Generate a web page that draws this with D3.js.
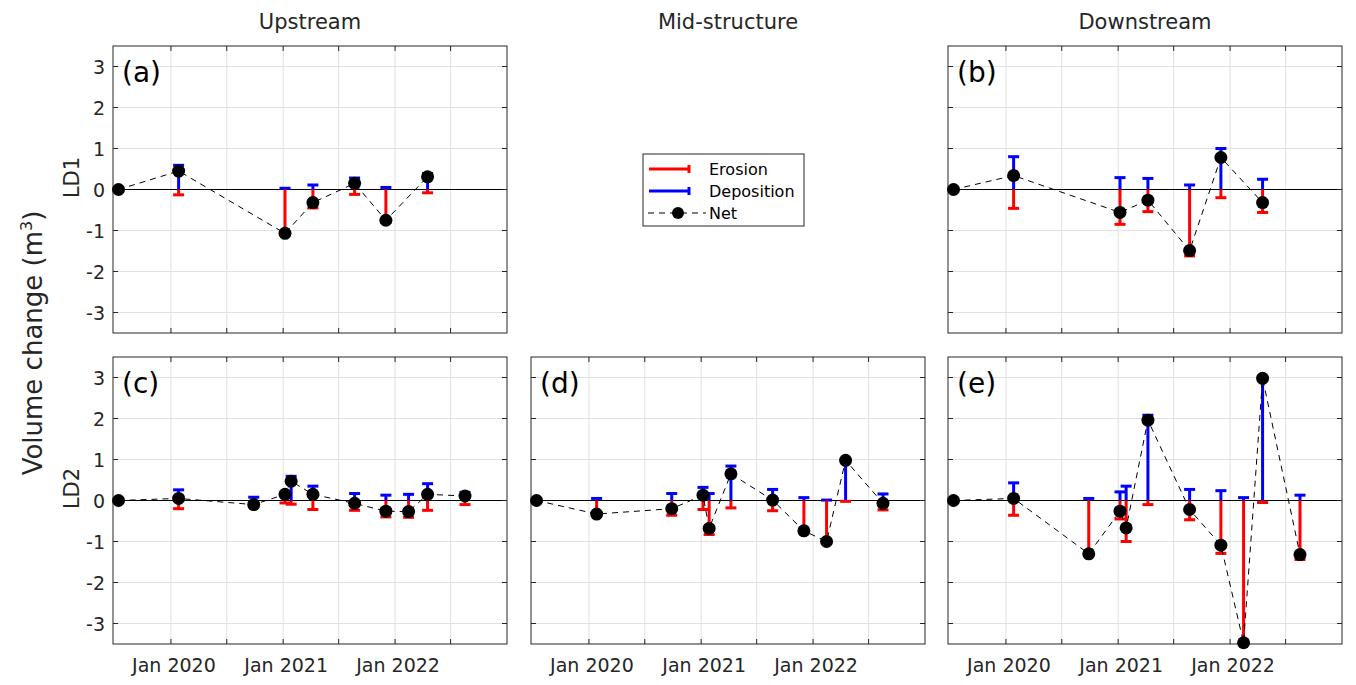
<!DOCTYPE html>
<html>
<head>
<meta charset="utf-8">
<script src="https://cdn.jsdelivr.net/npm/d3@7"></script>
<style>
  body { margin: 0; background: #fff; }
  text { font-family: "DejaVu Sans", Verdana, sans-serif; fill: #262626; }
</style>
</head>
<body>
<div id="vis"></div>
<script>
// survey dates
var datesLD1 = ["2019-07-14", "2020-01-26", "2021-01-07", "2021-04-08", "2021-08-22", "2021-12-02", "2022-04-17"];
var datesLD2 = ["2019-07-14", "2020-01-26", "2020-09-27", "2021-01-07", "2021-01-27", "2021-04-08",
                "2021-08-22", "2021-12-02", "2022-02-14", "2022-04-17", "2022-08-17"];

// (a) LD1 upstream
var netA = [0, 0.45, -1.07, -0.32, 0.15, -0.75, 0.31];
var depA = [0, 0.59, 0.03, 0.11, 0.28, 0.05, 0.39];
var eroA = [0, -0.13, -1.10, -0.45, -0.12, -0.80, -0.08];
// (b) LD1 downstream
var netB = [0, 0.34, -0.56, -0.26, -1.49, 0.78, -0.32];
var depB = [0, 0.80, 0.29, 0.27, 0.11, 1.00, 0.25];
var eroB = [0, -0.46, -0.85, -0.54, -1.62, -0.20, -0.56];
// (c) LD2 upstream
var netC = [0, 0.05, -0.10, 0.15, 0.47, 0.15, -0.07, -0.26, -0.27, 0.15, 0.11];
var depC = [0, 0.26, 0.08, 0.20, 0.59, 0.35, 0.17, 0.13, 0.15, 0.41, 0.20];
var eroC = [0, -0.20, -0.16, -0.06, -0.09, -0.22, -0.24, -0.40, -0.41, -0.24, -0.10];
// (d) LD2 mid-structure
var netD = [0, -0.33, -0.20, 0.13, -0.68, 0.65, 0.01, -0.74, -1.00, 0.98, -0.07];
var depD = [0, 0.05, 0.17, 0.32, 0.17, 0.84, 0.27, 0.07, 0.01, 0.98, 0.16];
var eroD = [0, -0.38, -0.36, -0.22, -0.83, -0.18, -0.25, -0.80, -1.01, -0.02, -0.23];
// (e) LD2 downstream
var netE = [0, 0.05, -1.30, -0.26, -0.67, 1.96, -0.22, -1.09, -3.47, 2.98, -1.32];
var depE = [0, 0.43, 0.05, 0.21, 0.35, 2.08, 0.27, 0.24, 0.07, 3.03, 0.13];
var eroE = [0, -0.36, -1.35, -0.45, -1.00, -0.10, -0.47, -1.29, -3.52, -0.05, -1.44];

var columnTitles = ["Upstream", "Mid-structure", "Downstream"];
var rowTitles = ["LD1", "LD2"];
var yTicks = [-3, -2, -1, 0, 1, 2, 3];
var xTickDates = ["2020-01-01", "2020-07-01", "2021-01-01", "2021-07-01", "2022-01-01", "2022-07-01"];

var panels = [
  {label: "(a)", row: 0, col: 0, dates: datesLD1, net: netA, dep: depA, ero: eroA},
  {label: "(b)", row: 0, col: 2, dates: datesLD1, net: netB, dep: depB, ero: eroB},
  {label: "(c)", row: 1, col: 0, dates: datesLD2, net: netC, dep: depC, ero: eroC},
  {label: "(d)", row: 1, col: 1, dates: datesLD2, net: netD, dep: depD, ero: eroD},
  {label: "(e)", row: 1, col: 2, dates: datesLD2, net: netE, dep: depE, ero: eroE}
];

var W = 1356, H = 685,
    colX = [113, 531, 948],
    rowY = [46, 357],
    pw = 394, ph = 287,
    parse = d3.timeParse("%Y-%m-%d"),
    capW = 11, tickLen = 5;

var svg = d3.select("#vis").append("svg")
    .attr("width", W)
    .attr("height", H);

var x = d3.scaleTime()
    .domain([parse("2019-06-26"), parse("2023-01-01")])
    .range([0, pw]);
var y = d3.scaleLinear()
    .domain([-3.5, 3.5])
    .range([ph, 0]);

// column titles
svg.selectAll("text.coltitle")
    .data(columnTitles)
  .enter().append("text")
    .attr("class", "coltitle")
    .attr("x", function(d, i) { return colX[i] + pw / 2; })
    .attr("y", 29)
    .attr("text-anchor", "middle")
    .style("font-size", "21px")
    .text(function(d) { return d; });

// row titles
svg.selectAll("text.rowtitle")
    .data(rowTitles)
  .enter().append("text")
    .attr("class", "rowtitle")
    .attr("transform", function(d, i) { return "translate(79," + (rowY[i] + ph / 2 - 12) + ") rotate(-90)"; })
    .attr("text-anchor", "middle")
    .style("font-size", "21px")
    .text(function(d) { return d; });

var ylab = svg.append("text")
    .attr("transform", "translate(42,343) rotate(-90)")
    .attr("text-anchor", "middle")
    .style("font-size", "26px");
ylab.append("tspan").text("Volume change (m");
ylab.append("tspan").attr("dy", -10).style("font-size", "16px").text("3");
ylab.append("tspan").attr("dy", 10).text(")");

panels.forEach(function(p) {
  var g = svg.append("g")
      .attr("transform", "translate(" + colX[p.col] + "," + rowY[p.row] + ")");

  var pts = p.dates.map(function(d, i) {
    return {t: parse(d), net: p.net[i], dep: p.dep[i], ero: p.ero[i]};
  });

  // grid
  g.selectAll("line.gx")
      .data(xTickDates)
    .enter().append("line")
      .attr("x1", function(d) { return x(parse(d)); })
      .attr("x2", function(d) { return x(parse(d)); })
      .attr("y1", 0).attr("y2", ph)
      .attr("stroke", "#e1e1e1");
  g.selectAll("line.gy")
      .data(yTicks)
    .enter().append("line")
      .attr("x1", 0).attr("x2", pw)
      .attr("y1", function(d) { return y(d); })
      .attr("y2", function(d) { return y(d); })
      .attr("stroke", "#e1e1e1");

  // zero line
  g.append("line")
      .attr("x1", 0).attr("x2", pw)
      .attr("y1", y(0)).attr("y2", y(0))
      .attr("stroke", "#000").attr("stroke-width", 1);

  // ticks (inside, all four sides)
  yTicks.forEach(function(v) {
    g.append("line").attr("x1", 0).attr("x2", tickLen).attr("y1", y(v)).attr("y2", y(v)).attr("stroke", "#262626");
    g.append("line").attr("x1", pw - tickLen).attr("x2", pw).attr("y1", y(v)).attr("y2", y(v)).attr("stroke", "#262626");
  });
  xTickDates.forEach(function(d) {
    var xx = x(parse(d));
    g.append("line").attr("x1", xx).attr("x2", xx).attr("y1", ph).attr("y2", ph - tickLen).attr("stroke", "#262626");
    g.append("line").attr("x1", xx).attr("x2", xx).attr("y1", 0).attr("y2", tickLen).attr("stroke", "#262626");
  });

  // frame
  g.append("rect")
      .attr("width", pw).attr("height", ph)
      .attr("fill", "none")
      .attr("stroke", "#262626").attr("stroke-width", 1);

  // y tick labels on left column only
  if (p.col === 0) {
    g.selectAll("text.yt")
        .data(yTicks)
      .enter().append("text")
        .attr("x", -8)
        .attr("y", function(d) { return y(d) + 7; })
        .attr("text-anchor", "end")
        .style("font-size", "19px")
        .text(function(d) { return d; });
  }
  // x tick labels on bottom row only
  if (p.row === 1) {
    g.selectAll("text.xt")
        .data(xTickDates.filter(function(d) { return d.slice(5, 7) === "01"; }))
      .enter().append("text")
        .attr("x", function(d) { return x(parse(d)) + 3; })
        .attr("y", ph + 28)
        .attr("text-anchor", "middle")
        .style("font-size", "19px")
        .text(function(d) { return d3.timeFormat("%b %Y")(parse(d)); });
  }

  // deposition then erosion bars
  var bars = [{key: "dep", color: "#0000ff"}, {key: "ero", color: "#ff0000"}];
  bars.forEach(function(b) {
    g.selectAll("line.bar-" + b.key)
        .data(pts)
      .enter().append("line")
        .attr("x1", function(d) { return x(d.t); })
        .attr("x2", function(d) { return x(d.t); })
        .attr("y1", y(0))
        .attr("y2", function(d) { return y(d[b.key]); })
        .attr("stroke", b.color).attr("stroke-width", 3);
    g.selectAll("line.cap-" + b.key)
        .data(pts)
      .enter().append("line")
        .attr("x1", function(d) { return x(d.t) - capW / 2; })
        .attr("x2", function(d) { return x(d.t) + capW / 2; })
        .attr("y1", function(d) { return y(d[b.key]); })
        .attr("y2", function(d) { return y(d[b.key]); })
        .attr("stroke", b.color).attr("stroke-width", 3);
  });

  // net dashed line + dots
  var line = d3.line()
      .x(function(d) { return x(d.t); })
      .y(function(d) { return y(d.net); });
  g.append("path")
      .datum(pts)
      .attr("d", line)
      .attr("fill", "none")
      .attr("stroke", "#000").attr("stroke-width", 1)
      .attr("stroke-dasharray", "6,5");
  g.selectAll("circle")
      .data(pts)
    .enter().append("circle")
      .attr("cx", function(d) { return x(d.t); })
      .attr("cy", function(d) { return y(d.net); })
      .attr("r", 6.5)
      .attr("fill", "#000");

  // panel label
  g.append("text")
      .attr("x", 9)
      .attr("y", 36)
      .style("font-size", "28px")
      .style("fill", "#000")
      .text(p.label);
});

// legend
var legend = svg.append("g").attr("transform", "translate(643,154)");
legend.append("rect")
    .attr("width", 161).attr("height", 72)
    .attr("fill", "#fff")
    .attr("stroke", "#262626").attr("stroke-width", 1);
var legendItems = [
  {name: "Erosion", color: "#ff0000"},
  {name: "Deposition", color: "#0000ff"},
  {name: "Net", color: "#000"}
];
legendItems.forEach(function(it, i) {
  var ly = 15 + i * 22;
  if (it.name !== "Net") {
    legend.append("line").attr("x1", 6).attr("x2", 47).attr("y1", ly).attr("y2", ly)
        .attr("stroke", it.color).attr("stroke-width", 3);
    legend.append("line").attr("x1", 46).attr("x2", 46).attr("y1", ly - 4).attr("y2", ly + 4)
        .attr("stroke", it.color).attr("stroke-width", 3);
  } else {
    legend.append("line").attr("x1", 5).attr("x2", 63).attr("y1", ly).attr("y2", ly)
        .attr("stroke", "#000").attr("stroke-width", 1).attr("stroke-dasharray", "6,5");
    legend.append("circle").attr("cx", 35).attr("cy", ly).attr("r", 6).attr("fill", "#000");
  }
  legend.append("text")
      .attr("x", 66)
      .attr("y", ly + 6)
      .style("font-size", "16px")
      .style("fill", "#000")
      .text(it.name);
});
</script>
</body>
</html>
